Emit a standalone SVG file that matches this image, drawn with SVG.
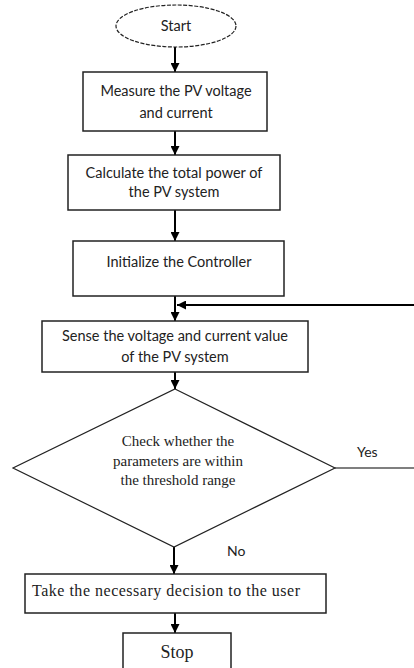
<svg xmlns="http://www.w3.org/2000/svg" width="414" height="668" viewBox="0 0 414 668">
<style>
.box{fill:#fff;stroke:#222;stroke-width:1.5}
.sans{font-family:Lato,"Open Sans",sans-serif;font-size:14.5px;fill:#222;text-anchor:middle}
.serif{font-family:"Liberation Serif","Times New Roman",serif;font-size:15px;fill:#222;text-anchor:middle}
.ln{stroke:#000;stroke-width:2;fill:none}
.thin{stroke:#000;stroke-width:1.2;fill:none}
</style>
<defs>
<marker id="ah" viewBox="0 0 10 10" refX="10" refY="5" markerWidth="5" markerHeight="4.5" orient="auto" markerUnits="strokeWidth">
<path d="M0,0 L10,5 L0,10 z" fill="#000"/>
</marker>
</defs>
<g id="connectors">
<line class="ln" x1="175" y1="47" x2="175" y2="72" marker-end="url(#ah)"/>
<line class="ln" x1="175" y1="131" x2="175" y2="155" marker-end="url(#ah)"/>
<line class="ln" x1="175" y1="210" x2="175" y2="241" marker-end="url(#ah)"/>
<line class="ln" x1="175" y1="296" x2="175" y2="321" marker-end="url(#ah)"/>
<line class="ln" x1="414" y1="305" x2="177" y2="305" marker-end="url(#ah)"/>
<line class="ln" x1="175" y1="372" x2="175" y2="389" marker-end="url(#ah)"/>
<line class="thin" x1="335" y1="468" x2="414" y2="468"/>
<line class="ln" x1="174" y1="547" x2="174" y2="574" marker-end="url(#ah)"/>
<line class="ln" x1="175" y1="613" x2="175" y2="633" marker-end="url(#ah)"/>
<text x="357" y="457" style="font-family:Lato,'Open Sans',sans-serif;font-size:14px;fill:#222">Yes</text>
<text x="227" y="556" style="font-family:Lato,'Open Sans',sans-serif;font-size:14px;fill:#222">No</text>
</g>
<g id="start">
<ellipse cx="176" cy="26" rx="60" ry="21" fill="#fff" stroke="#222" stroke-width="1.2" stroke-dasharray="4,1.5"/>
<text class="sans" x="176" y="31">Start</text>
</g>
<g id="measure">
<rect class="box" x="83" y="72" width="184" height="59"/>
<text class="sans" x="176" y="96">Measure the PV voltage</text>
<text class="sans" x="176" y="118">and current</text>
</g>
<g id="calculate">
<rect class="box" x="68" y="155" width="212" height="55"/>
<text class="sans" x="174" y="178">Calculate the total power of</text>
<text class="sans" x="174" y="197">the PV system</text>
</g>
<g id="initialize">
<rect class="box" x="73" y="241" width="211" height="55"/>
<text class="sans" x="179" y="267">Initialize the Controller</text>
</g>
<g id="sense">
<rect class="box" x="42" y="321" width="266" height="51"/>
<text class="sans" x="175" y="341">Sense the voltage and current value</text>
<text class="sans" x="175" y="362">of the PV system</text>
</g>
<g id="check">
<polygon points="175,389 335,468 174,547 13,468" fill="#fff" stroke="#222" stroke-width="1.2"/>
<text class="serif" x="178" y="446">Check whether the</text>
<text class="serif" x="178" y="466">parameters are within</text>
<text class="serif" x="178" y="485">the threshold range</text>
</g>
<g id="decision">
<rect class="box" x="25" y="574" width="301" height="39"/>
<text class="serif" x="166" y="596" style="font-size:16px" textLength="268" lengthAdjust="spacing">Take the necessary decision to the user</text>
</g>
<g id="stop">
<rect class="box" x="123" y="633" width="108" height="40"/>
<text class="serif" x="177" y="658" style="font-size:18px">Stop</text>
</g>
</svg>
